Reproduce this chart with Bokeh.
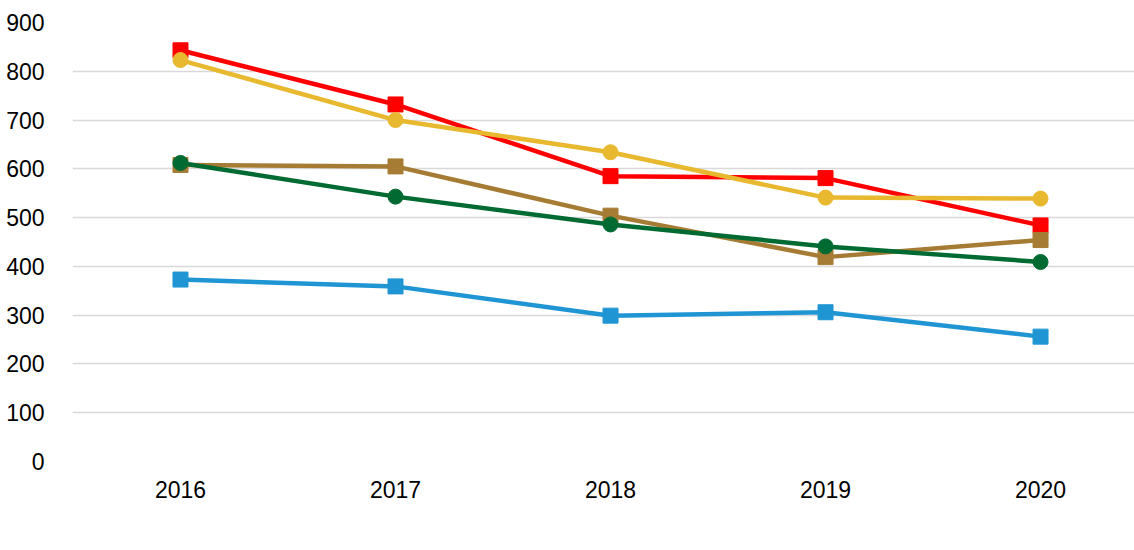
from bokeh.plotting import figure
from bokeh.models import Range1d, FixedTicker, Legend, LegendItem
from bokeh.embed import file_html
from bokeh.resources import INLINE

years = [2016, 2017, 2018, 2019, 2020]
babimost = [373, 359, 299, 306, 256]
czerwiensk = [843, 732, 585, 581, 484]
kargowa = [608, 605, 504, 419, 454]
nowogrod = [823, 700, 634, 541, 539]
sulechow = [612, 543, 486, 441, 409]

series = [
    ("Babimost", babimost, "#1F96D3", "square"),
    ("Czerwieńsk", czerwiensk, "#FF0000", "square"),
    ("Kargowa", kargowa, "#A67C34", "square"),
    ("Nowogród Bobrzański", nowogrod, "#E8B92F", "circle"),
    ("Sulechów", sulechow, "#006A33", "circle"),
]

FONT = "Liberation Sans"

p = figure(output_backend="svg", toolbar_location=None,
           frame_width=1062, frame_height=439,
           x_range=Range1d(2015.4977, 2020.437), y_range=Range1d(0, 900),
           min_border_left=72, min_border_right=0, min_border_top=22,
           min_border_bottom=0)
p.outline_line_color = None
p.background_fill_color = "white"
p.border_fill_color = "white"

items = []
for name, vals, col, mk in series:
    r1 = p.line(years, vals, line_color=col, line_width=4.5)
    r2 = p.scatter(years, vals, marker=mk, size=15, fill_color=col, line_color=col)
    items.append(LegendItem(label=name, renderers=[r1, r2]))

p.xgrid.grid_line_color = None
p.ygrid.grid_line_color = "#D9D9D9"
p.ygrid.grid_line_width = 1.5
p.yaxis.ticker = FixedTicker(ticks=list(range(0, 901, 100)))
p.xaxis.ticker = FixedTicker(ticks=years)
for ax in (p.xaxis, p.yaxis):
    ax.axis_line_color = None
    ax.major_tick_line_color = None
    ax.minor_tick_line_color = None
    ax.major_label_text_font = FONT
    ax.major_label_text_font_size = "23px"
    ax.major_label_text_color = "#000000"
p.yaxis.major_label_standoff = 22
p.xaxis.major_label_standoff = 13

legend = Legend(items=items, orientation="horizontal", location="top_center",
                label_text_font=FONT, label_text_font_size="24px",
                label_text_color="#000000", glyph_width=55, glyph_height=28,
                label_standoff=4, spacing=20, padding=0, margin=0,
                border_line_color=None, background_fill_alpha=0)
p.add_layout(legend, "below")

open("out.html", "w").write(file_html(p, INLINE))
